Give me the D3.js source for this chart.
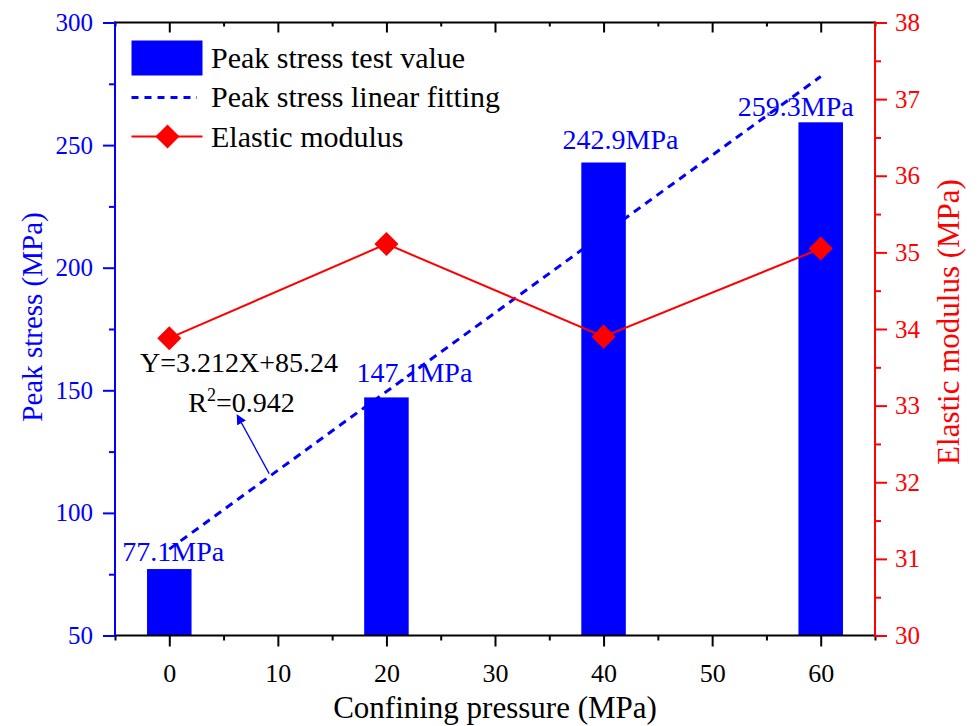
<!DOCTYPE html>
<html>
<head>
<meta charset="utf-8">
<script src="https://cdn.jsdelivr.net/npm/d3@7"></script>
<style>
  html, body { margin: 0; padding: 0; background: #fff; }
  svg { display: block; }
</style>
</head>
<body>
<svg id="chart" width="978" height="726"></svg>
<script>
// Confining pressure (MPa) for each specimen group
const pressures = [0, 20, 40, 60];
// Peak stress test values (MPa)
const peakStress = [77.1, 147.1, 242.9, 259.3];
// Elastic modulus (MPa)
const elasticModulus = [33.88, 35.11, 33.90, 35.05];
// Linear fit of peak stress: Y = slope * X + intercept
const fitSlope = 3.212;
const fitIntercept = 85.24;
const fitR2 = 0.942;
const fitRange = [0, 60];
// Axis ticks
const xTicks = [0, 10, 20, 30, 40, 50, 60];
const leftTicks = [50, 100, 150, 200, 250, 300];
const rightTicks = [30, 31, 32, 33, 34, 35, 36, 37, 38];
const legendLabels = ["Peak stress test value", "Peak stress linear fitting", "Elastic modulus"];

const BLUE = "#0000ff", RED = "#ff0000", BLACK = "#000";
const SERIF = "'Liberation Serif', 'Times New Roman', Times, serif";

const svg = d3.select("#chart").attr("font-family", SERIF);
const L = 115, R = 875, T = 22.5, B = 635.5;

const x = d3.scaleLinear().domain([-5, 65]).range([L, R]);
const yL = d3.scaleLinear().domain([50, 300]).range([B, T]);
const yR = d3.scaleLinear().domain([30, 38]).range([B, T]);

// ---- bars ----
const barHalf = 2.05;
svg.append("g").selectAll("rect")
  .data(pressures.map((p, i) => ({ p, v: peakStress[i] })))
  .join("rect")
  .attr("x", d => x(d.p - barHalf))
  .attr("width", d => x(d.p + barHalf) - x(d.p - barHalf))
  .attr("y", d => yL(d.v))
  .attr("height", d => B - yL(d.v))
  .attr("fill", BLUE);

// ---- value labels above bars (hand-nudged so they clear the lines) ----
const labelNudge = [[4, -8], [28, -15], [17, -14], [-25, -6]];
svg.append("g").selectAll("text")
  .data(pressures.map((p, i) => ({ p, v: peakStress[i], n: labelNudge[i] })))
  .join("text")
  .attr("x", d => x(d.p) + d.n[0])
  .attr("y", d => yL(d.v) + d.n[1])
  .attr("text-anchor", "middle")
  .attr("font-family", SERIF)
  .attr("font-size", 28)
  .attr("fill", BLUE)
  .text(d => d.v.toFixed(1) + "MPa");

// ---- linear fitting line ----
const fit = X => fitSlope * X + fitIntercept;
svg.append("line")
  .attr("x1", x(fitRange[0])).attr("y1", yL(fit(fitRange[0])))
  .attr("x2", x(fitRange[1])).attr("y2", yL(fit(fitRange[1])))
  .attr("stroke", BLUE).attr("stroke-width", 3)
  .attr("stroke-dasharray", "8,6");

// ---- elastic modulus line + diamonds ----
const emPts = pressures.map((p, i) => [x(p), yR(elasticModulus[i])]);
svg.append("path")
  .attr("d", d3.line()(emPts))
  .attr("fill", "none").attr("stroke", RED).attr("stroke-width", 2);
const diamond = d3.symbol(d3.symbolSquare, 290);
svg.append("g").selectAll("path")
  .data(emPts)
  .join("path")
  .attr("d", diamond)
  .attr("transform", d => `translate(${d[0]},${d[1]}) rotate(45)`)
  .attr("fill", RED);

// ---- fit equation annotation with arrow ----
svg.append("defs").append("marker")
  .attr("id", "arrowHead")
  .attr("viewBox", "0 0 10 10")
  .attr("refX", 9).attr("refY", 5)
  .attr("markerWidth", 10).attr("markerHeight", 10)
  .attr("markerUnits", "userSpaceOnUse")
  .attr("orient", "auto")
  .append("path").attr("d", "M0,0 L10,5 L0,10 z").attr("fill", BLUE);

const arrowFromX = 9.2;
svg.append("line")
  .attr("x1", x(arrowFromX)).attr("y1", yL(fit(arrowFromX)) - 3)
  .attr("x2", x(6.26)).attr("y2", yL(139.9))
  .attr("stroke", BLUE).attr("stroke-width", 1.3)
  .attr("marker-end", "url(#arrowHead)");

svg.append("text")
  .attr("x", x(-2.7)).attr("y", yL(157.6))
  .attr("font-family", SERIF)
  .attr("font-size", 28).attr("fill", BLACK)
  .text(`Y=${fitSlope}X+${fitIntercept}`);
const r2 = svg.append("text")
  .attr("x", x(1.75)).attr("y", yL(141.3))
  .attr("font-family", SERIF)
  .attr("font-size", 28).attr("fill", BLACK);
r2.append("tspan").text("R");
r2.append("tspan").attr("dy", -11).attr("font-size", 18).text("2");
r2.append("tspan").attr("dy", 11).text("=" + fitR2.toFixed(3));

// ---- axes ----
function styleAxis(g, color, fontSize) {
  g.attr("font-family", SERIF);
  g.select(".domain").remove();
  g.selectAll(".tick line").attr("stroke", color).attr("stroke-width", 2);
  g.selectAll(".tick text").attr("fill", color).attr("font-size", fontSize)
    .attr("font-family", SERIF);
}
const minorRange = (a, b, s) => d3.range(a, b + s / 2, s);

// bottom
const gB = svg.append("g").attr("transform", `translate(0,${B})`);
gB.append("g").call(d3.axisBottom(x).tickValues(minorRange(-5, 65, 5).filter(v => !xTicks.includes(v)))
  .tickSize(5).tickFormat(""))
  .call(g => styleAxis(g, BLACK, 26));
gB.append("g").call(d3.axisBottom(x).tickValues(xTicks).tickSize(11).tickPadding(17))
  .call(g => styleAxis(g, BLACK, 26));
gB.append("line").attr("x1", L - 1).attr("x2", R + 1).attr("stroke", BLACK).attr("stroke-width", 2);

// top (inward ticks, no labels)
const gT = svg.append("g").attr("transform", `translate(0,${T})`);
gT.append("g").call(d3.axisBottom(x).tickValues(minorRange(-5, 65, 5).filter(v => !xTicks.includes(v)))
  .tickSize(4).tickFormat(""))
  .call(g => styleAxis(g, BLACK, 26));
gT.append("g").call(d3.axisBottom(x).tickValues(xTicks).tickSize(10).tickFormat(""))
  .call(g => styleAxis(g, BLACK, 26));
gT.append("line").attr("x1", L - 1).attr("x2", R + 1).attr("stroke", BLACK).attr("stroke-width", 2);

// left
const gL = svg.append("g").attr("transform", `translate(${L},0)`);
gL.append("g").call(d3.axisLeft(yL).tickValues(minorRange(75, 275, 50)).tickSize(6).tickFormat(""))
  .call(g => styleAxis(g, BLUE, 25));
gL.append("g").call(d3.axisLeft(yL).tickValues(leftTicks).tickSize(12).tickPadding(10))
  .call(g => styleAxis(g, BLUE, 25));
gL.append("line").attr("y1", T - 1).attr("y2", B + 1).attr("stroke", BLUE).attr("stroke-width", 2);

// right
const gR = svg.append("g").attr("transform", `translate(${R},0)`);
gR.append("g").call(d3.axisRight(yR).tickValues(minorRange(30.5, 37.5, 1)).tickSize(6).tickFormat(""))
  .call(g => styleAxis(g, RED, 25));
gR.append("g").call(d3.axisRight(yR).tickValues(rightTicks).tickSize(12).tickPadding(8))
  .call(g => styleAxis(g, RED, 25));
gR.append("line").attr("y1", T - 1).attr("y2", B + 1).attr("stroke", RED).attr("stroke-width", 2);

// ---- axis titles ----
svg.append("text")
  .attr("x", (L + R) / 2).attr("y", 718)
  .attr("text-anchor", "middle").attr("font-family", SERIF)
  .attr("font-size", 31).attr("fill", BLACK)
  .text("Confining pressure (MPa)");
svg.append("text")
  .attr("transform", `translate(42,317) rotate(-90)`)
  .attr("text-anchor", "middle").attr("font-family", SERIF)
  .attr("font-size", 29).attr("fill", BLUE)
  .text("Peak stress (MPa)");
svg.append("text")
  .attr("transform", `translate(959,322) rotate(-90)`)
  .attr("text-anchor", "middle").attr("font-family", SERIF)
  .attr("font-size", 31).attr("fill", RED)
  .text("Elastic modulus (MPa)");

// ---- legend ----
const lg = svg.append("g");
lg.append("rect").attr("x", 131.5).attr("y", 40.5).attr("width", 71).attr("height", 35).attr("fill", BLUE);
lg.append("line").attr("x1", 131.5).attr("x2", 197).attr("y1", 97.5).attr("y2", 97.5)
  .attr("stroke", BLUE).attr("stroke-width", 3).attr("stroke-dasharray", "7,6");
lg.append("line").attr("x1", 131.5).attr("x2", 202.5).attr("y1", 136.5).attr("y2", 136.5)
  .attr("stroke", RED).attr("stroke-width", 2);
lg.append("path").attr("d", diamond).attr("transform", "translate(167.5,136.5) rotate(45)").attr("fill", RED);
lg.selectAll("text.lab").data(legendLabels).join("text")
  .attr("class", "lab")
  .attr("x", 211).attr("y", (d, i) => 68 + i * 39.3)
  .attr("font-family", SERIF)
  .attr("font-size", 30).attr("fill", BLACK)
  .text(d => d);
</script>
</body>
</html>
